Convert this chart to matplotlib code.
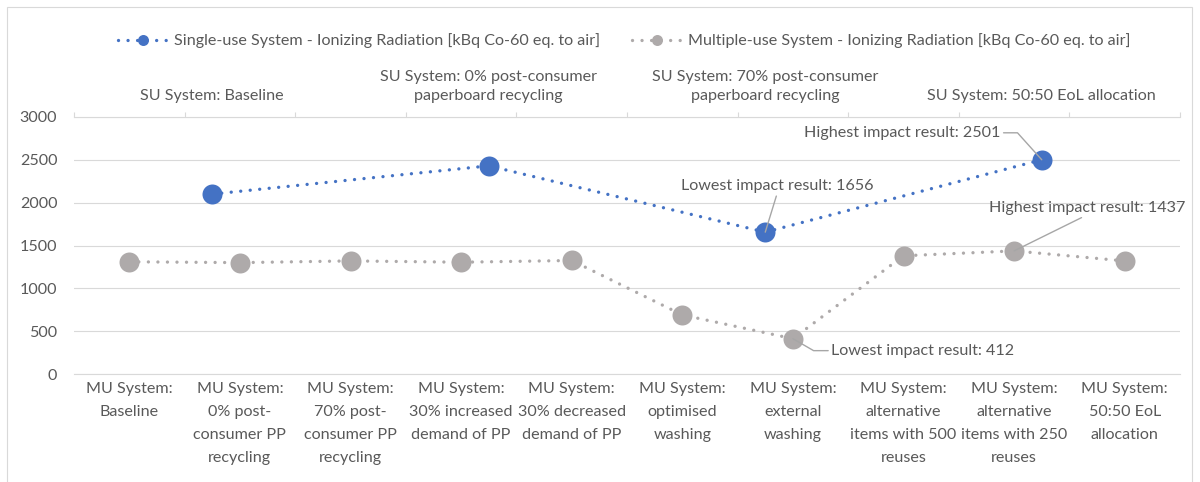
import matplotlib
matplotlib.use("Agg")
import matplotlib.pyplot as plt
import numpy as np
from matplotlib.patches import Rectangle

# data
su_labels = ["SU System: Baseline",
             "SU System: 0% post-consumer\npaperboard recycling",
             "SU System: 70% post-consumer\npaperboard recycling",
             "SU System: 50:50 EoL allocation"]
su_values = [2100, 2430, 1656, 2501]

mu_labels = ["MU System:\nBaseline",
             "MU System:\n0% post-\nconsumer PP\nrecycling",
             "MU System:\n70% post-\nconsumer PP\nrecycling",
             "MU System:\n30% increased\ndemand of PP",
             "MU System:\n30% decreased\ndemand of PP",
             "MU System:\noptimised\nwashing",
             "MU System:\nexternal\nwashing",
             "MU System:\nalternative\nitems with 500\nreuses",
             "MU System:\nalternative\nitems with 250\nreuses",
             "MU System:\n50:50 EoL\nallocation"]
mu_values = [1310, 1300, 1320, 1305, 1325, 690, 412, 1380, 1437, 1320]

y_ticks = [0, 500, 1000, 1500, 2000, 2500, 3000]

su_name = "Single-use System - Ionizing Radiation [kBq Co-60 eq. to air]"
mu_name = "Multiple-use System - Ionizing Radiation [kBq Co-60 eq. to air]"

# styles
blue = "#4472C4"
gray = "#AEAAAA"
txt = "#595959"
grid = "#D9D9D9"
lead = "#A6A6A6"
fs = 11.6
dots = (0, (0.01, 2.85))

plt.rcParams["font.family"] = ["Lato", "DejaVu Sans"]

fig = plt.figure(figsize=(12, 4.82), dpi=100)
ax = fig.add_axes([74 / 1200, 1 - 374 / 482, 1106 / 1200, 257 / 482])

# chart border
fig.patches.append(Rectangle((7 / 1200, -0.05), 1185 / 1200, 1.05 - 7 / 482,
                             transform=fig.transFigure, fill=False,
                             edgecolor=grid, lw=0.8))

x_mu = np.arange(len(mu_values))
ax.plot(x_mu, mu_values, color=gray, lw=2.4, linestyle=dots, dash_capstyle="round",
        marker="o", markersize=14.4, markeredgewidth=0, label=mu_name, zorder=3)
ax.set_xlim(-0.5, len(mu_values) - 0.5)
ax.set_ylim(0, 3000)
ax.set_yticks(y_ticks)
ax.yaxis.grid(True, color=grid, lw=0.8)
ax.set_axisbelow(True)
ax.set_xticks(x_mu)
ax.set_xticklabels(mu_labels, linespacing=1.8)
ax.tick_params(axis="x", length=0, pad=6, labelsize=fs, labelcolor=txt)
ax.tick_params(axis="y", length=0, pad=12, labelsize=fs, labelcolor=txt)
for s in ["top", "left", "right"]:
    ax.spines[s].set_visible(False)
ax.spines["bottom"].set_color(grid)
ax.spines["bottom"].set_linewidth(0.8)

# secondary (top) axis for the single-use system
ax2 = ax.twiny()
x_su = np.arange(len(su_values))
ax2.plot(x_su, su_values, color=blue, lw=2.4, linestyle=dots, dash_capstyle="round",
         marker="o", markersize=14.4, markeredgewidth=0, label=su_name, zorder=3)
ax2.set_xlim(-0.5, len(su_values) - 0.5)
ax2.set_xticks(np.linspace(-0.5, len(su_values) - 0.5, 11))
ax2.set_xticklabels([])
ax2.set_xticks(x_su, minor=True)
ax2.set_xticklabels(su_labels, minor=True, linespacing=1.45)
ax2.tick_params(axis="x", which="major", direction="out", length=3.6, color=grid, width=0.8)
ax2.tick_params(axis="x", which="minor", length=0, pad=10, labelsize=fs, labelcolor=txt)
for s in ["bottom", "left", "right"]:
    ax2.spines[s].set_visible(False)
ax2.spines["top"].set_color(grid)
ax2.spines["top"].set_linewidth(0.8)

# data labels
def label(a, x, y, text, off, ha, va, rel, conn="arc3"):
    a.annotate(text, xy=(x, y), xytext=off, textcoords="offset points",
               ha=ha, va=va, fontsize=fs, color=txt, zorder=5,
               arrowprops=dict(arrowstyle="-", color=lead, lw=1, shrinkA=0, shrinkB=0,
                               relpos=rel, connectionstyle=conn))

i = int(np.argmax(su_values))
label(ax2, x_su[i], su_values[i], f"Highest impact result: {su_values[i]}",
      (-29.5, 19.4), "right", "center", (1, 0.5), "angle,angleA=0,angleB=-48,rad=0")
i = int(np.argmin(su_values))
label(ax2, x_su[i], su_values[i], f"Lowest impact result: {su_values[i]}",
      (8.6, 33), "center", "center", (0.5, 0))
i = int(np.argmax(mu_values))
label(ax, x_mu[i], mu_values[i], f"Highest impact result: {mu_values[i]}",
      (52.6, 31), "center", "center", (0.5, 0))
i = int(np.argmin(mu_values))
label(ax, x_mu[i], mu_values[i], f"Lowest impact result: {mu_values[i]}",
      (27.4, -8.6), "left", "center", (0, 0.5), "angle,angleA=0,angleB=-30,rad=0")

h1, l1 = ax2.get_legend_handles_labels()
h2, l2 = ax.get_legend_handles_labels()
fig.legend(h1 + h2, l1 + l2, loc="center", bbox_to_anchor=(0.52, 0.915), ncol=2,
           frameon=False, fontsize=fs, labelcolor=txt, handlelength=3.1,
           handletextpad=0.35, columnspacing=2.0, markerscale=0.55)

fig.savefig("out.png", dpi=100)
